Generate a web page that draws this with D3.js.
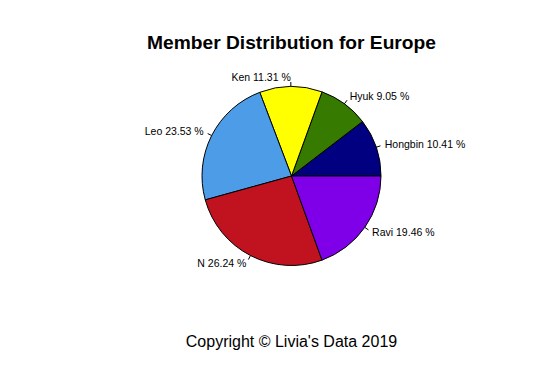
<!DOCTYPE html>
<html>
<head>
<meta charset="utf-8">
<script src="https://cdn.jsdelivr.net/npm/d3@7"></script>
<style>
  body { margin: 0; background: #fff; }
  text { font-family: "Liberation Sans", Arial, sans-serif; }
</style>
</head>
<body>
<div id="chart"></div>
<script>
// data, in R pie order (counterclockwise from 3 o'clock)
const members = ["Hongbin", "Hyuk", "Ken", "Leo", "N", "Ravi"];
const shares = [10.41, 9.05, 11.31, 23.53, 26.24, 19.46];
const colors = ["#000080", "#377a00", "#ffff00", "#4d9ce8", "#c0131f", "#7f00e8"];
const title = "Member Distribution for Europe";
const caption = "Copyright \u00a9 Livia's Data 2019";

const width = 545, height = 371;
const cx = 291.5, cy = 176, radius = 89.5;

const svg = d3.select("#chart").append("svg")
  .attr("width", width)
  .attr("height", height);

svg.append("text")
  .attr("x", cx).attr("y", 49)
  .attr("text-anchor", "middle")
  .attr("font-size", 19.2)
  .attr("font-weight", "bold")
  .text(title);

svg.append("text")
  .attr("x", cx).attr("y", 347)
  .attr("text-anchor", "middle")
  .attr("font-size", 16)
  .text(caption);

const total = d3.sum(shares);
// angle scale: fraction of total -> radians, counterclockwise from east
const ang = d3.scaleLinear().domain([0, total]).range([0, 2 * Math.PI]);

const slices = [];
let acc = 0;
shares.forEach((v, i) => {
  slices.push({ name: members[i], value: v, a0: ang(acc), a1: ang(acc + v), color: colors[i] });
  acc += v;
});

// d3.arc measures angles clockwise from 12 o'clock; convert
const toD3 = a => Math.PI / 2 - a;
const arc = d3.arc().innerRadius(0).outerRadius(radius);

const g = svg.append("g").attr("transform", `translate(${cx},${cy})`);

g.selectAll("path.slice")
  .data(slices)
  .join("path")
    .attr("class", "slice")
    .attr("d", d => arc({ startAngle: toD3(d.a1), endAngle: toD3(d.a0) }))
    .attr("fill", d => d.color)
    .attr("stroke", "#000")
    .attr("stroke-width", 1);

// tick marks and labels
slices.forEach(d => {
  const m = (d.a0 + d.a1) / 2;
  const c = Math.cos(m), s = -Math.sin(m);
  g.append("line")
    .attr("x1", c * radius).attr("y1", s * radius)
    .attr("x2", c * radius * 1.05).attr("y2", s * radius * 1.05)
    .attr("stroke", "#000").attr("stroke-width", 1);
  g.append("text")
    .attr("x", c * radius * 1.1)
    .attr("y", s * radius * 1.1)
    .attr("dy", "0.35em")
    .attr("text-anchor", c >= 0 ? "start" : "end")
    .attr("font-size", 10.5)
    .text(`${d.name} ${d.value.toFixed(2)} %`);
});
</script>
</body>
</html>
